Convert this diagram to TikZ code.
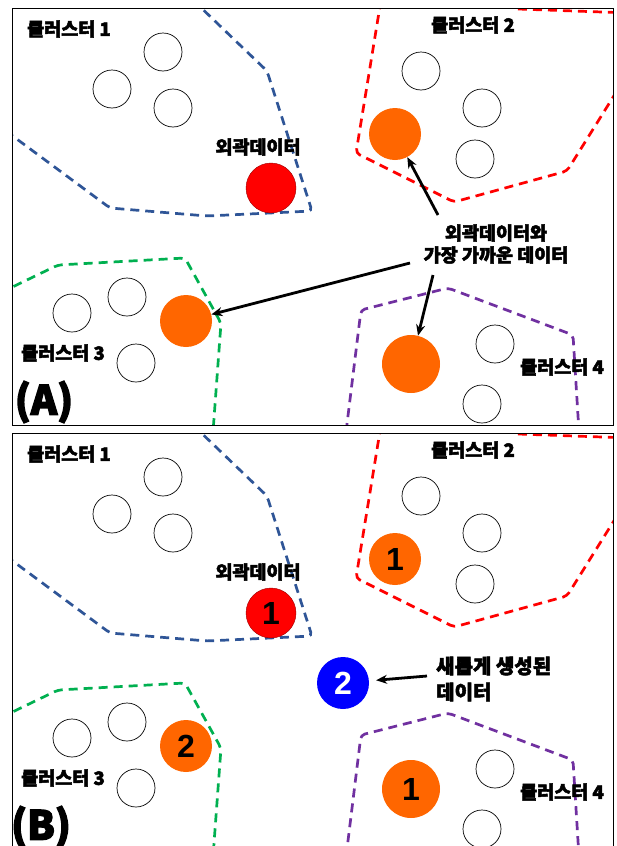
\documentclass[tikz,border=0pt]{standalone}
\usepackage{fontspec}
\newfontfamily\kr{Noto Sans CJK KR}[FakeBold=2.5]
\newfontfamily\krbig{Noto Sans CJK KR}[FakeBold=3.5]
\newfontfamily\numf{Liberation Sans}
\usetikzlibrary{arrows.meta}
\definecolor{cblue}{HTML}{2F5597}
\definecolor{cred}{HTML}{FF0000}
\definecolor{cgreen}{HTML}{00B050}
\definecolor{cpurple}{HTML}{7030A0}
\definecolor{dorange}{HTML}{FF6600}
\definecolor{dred}{HTML}{FF0000}
\definecolor{dblue}{HTML}{0000FF}
\tikzset{
  clus/.style={dash pattern=on 9pt off 6pt, line width=2.7pt, rounded corners=4pt},
  ptc/.style={circle, draw=black, line width=0.7pt, minimum size=38pt, inner sep=0pt},
  datac/.style={circle, inner sep=0pt, font=\numf\bfseries\fontsize{32}{32}\selectfont},
  lbl/.style={font=\kr\bfseries\fontsize{18.5}{22}\selectfont, inner sep=0pt},
  bigtag/.style={font=\krbig\bfseries\fontsize{40}{40}\selectfont, inner sep=0pt},
  arr/.style={-{Stealth[length=11pt,width=9pt]}, line width=2.8pt},
  panelframe/.style={draw=black, line width=1pt}
}
\newcommand\basepanel{%
  \begin{scope}
    \clip (12,8) rectangle (613,425);
    \draw[clus, cblue] (193,0) -- (267,71) -- (312,211) -- (207,216) -- (110,208) -- (10,134);
    \draw[clus, cred] (518,9) -- (630,13);
    \draw[clus, cred] (625,78) -- (567,171) -- (454,202) -- (356,153) -- (381,0);
    \draw[clus, cgreen] (0,293) -- (58,265) -- (185,258) -- (221,323) -- (213,432);
    \draw[clus, cpurple] (346,432) -- (361,310) -- (448,288) -- (573,335) -- (579,432);
  \end{scope}
  \draw[panelframe] (12,425) -- (12,8) -- (613,8) -- (613,425) -- cycle;
  \node[ptc] (p11) at (163,52) {};
  \node[ptc] (p12) at (112,89) {};
  \node[ptc] (p13) at (173,108) {};
  \node[ptc] (p21) at (421,71) {};
  \node[ptc] (p22) at (482,108) {};
  \node[ptc] (p23) at (475,159) {};
  \node[ptc] (p31) at (72,313) {};
  \node[ptc] (p32) at (127,297) {};
  \node[ptc] (p33) at (136,363) {};
  \node[ptc] (p41) at (495,344) {};
  \node[ptc] (p42) at (482,404) {};
  \node[lbl] (l1) at (69,29) {클러스터 1};
  \node[lbl] (l2) at (473,25) {클러스터 2};
  \node[lbl] (l3) at (63,353) {클러스터 3};
  \node[lbl] (l4) at (562,367) {클러스터 4};
  \node[lbl] (lo) at (258,147) {외곽데이터};
}
\begin{document}
\begin{tikzpicture}[x=1pt,y=-1pt]
\useasboundingbox[fill=white] (0,0) rectangle (617,846);
% ---------------- Panel A
\begin{scope}[name prefix=A-]
  \basepanel
  \node[datac, fill=dred, draw=red!60!black, line width=0.4pt, minimum size=50pt] (red) at (271,188) {};
  \node[datac, fill=dorange, minimum size=52pt] (o2) at (395,134) {};
  \node[datac, fill=dorange, minimum size=52pt] (o3) at (186,321) {};
  \node[datac, fill=dorange, minimum size=58pt] (o4) at (411,364) {};
  \node[lbl, align=center] (near) at (496,244) {외곽데이터와\\가장 가까운 데이터};
  \node[bigtag] (tag) at (44,402) {(A)};
  \coordinate (s2) at (438,215);
  \coordinate (s3) at (410,263);
  \coordinate (s4) at (433,275);
  \draw[arr] (s2) -- (o2);
  \draw[arr] (s3) -- (o3);
  \draw[arr] (s4) -- (o4);
\end{scope}
% ---------------- Panel B
\begin{scope}[shift={(0,425)}, name prefix=B-]
  \basepanel
  \node[datac, fill=dred, draw=red!60!black, line width=0.4pt, minimum size=50pt] (red) at (271,188) {1};
  \node[datac, fill=dorange, minimum size=52pt] (o2) at (395,134) {1};
  \node[datac, fill=dorange, minimum size=52pt] (o3) at (186,321) {2};
  \node[datac, fill=dorange, minimum size=58pt] (o4) at (411,364) {1};
  \node[datac, fill=dblue, text=white, minimum size=52pt] (nb) at (343,258) {2};
  \node[lbl, font=\kr\bfseries\fontsize{20}{26}\selectfont, align=left, anchor=west] (newt) at (436,254) {새롭게 생성된\\데이터};
  \node[bigtag] (tag) at (41,402) {(B)};
  \coordinate (sb) at (427,251);
  \draw[arr, shorten >=7pt] (sb) -- (nb);
\end{scope}
\end{tikzpicture}
\end{document}
